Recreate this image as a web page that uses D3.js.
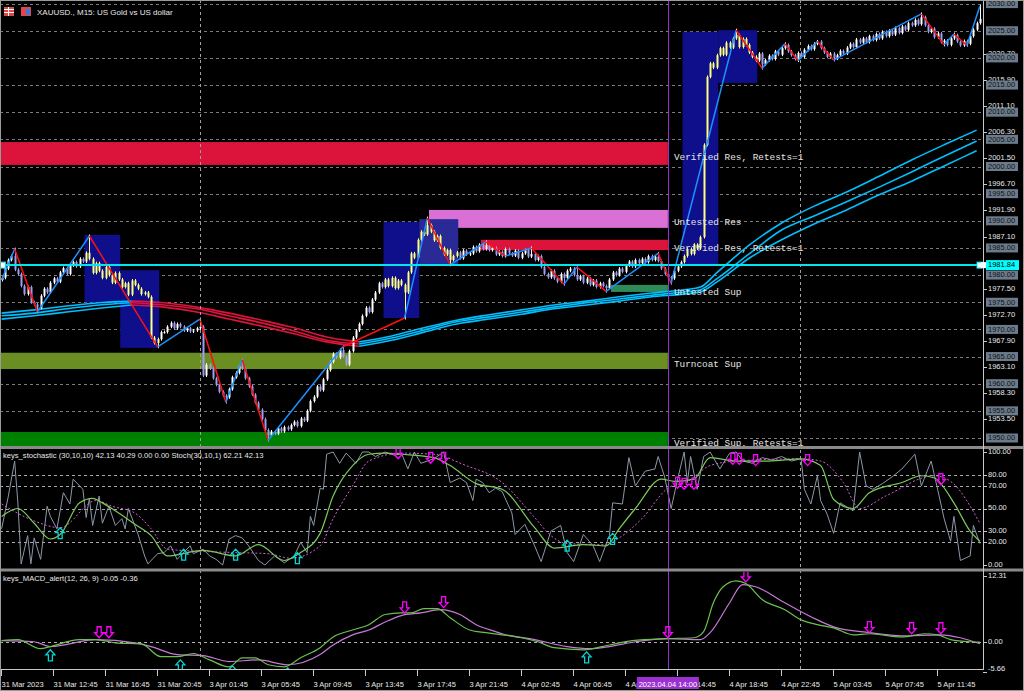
<!DOCTYPE html>
<html><head><meta charset="utf-8">
<script src="https://cdn.jsdelivr.net/npm/d3@7"></script>
<style>html,body{margin:0;padding:0;background:#000;overflow:hidden}</style>
</head><body><svg id="c" width="1024" height="691"></svg>
<script>
// ---------------- DATA ----------------
const closes = [
1979.5,1981.2,1982.8,1983.5,1981.0,1980.2,1978.0,1976.5,1977.8,1975.0,
1974.6,1974.0,1976.2,1977.5,1976.8,1978.6,1979.4,1978.8,1980.5,1981.3,
1980.2,1981.8,1982.4,1981.6,1983.0,1982.5,1984.1,1983.0,1980.4,1982.2,
1980.8,1979.5,1981.5,1980.0,1978.6,1980.4,1979.2,1977.8,1978.5,1976.4,
1979.0,1978.2,1977.5,1976.5,1976.8,1976.0,1968.5,1967.5,1968.2,1969.5,
1969.5,1970.5,1971.2,1970.2,1971.0,1970.5,1969.8,1970.2,1969.6,1969.8,
1970.2,1970.5,1961.5,1963.5,1962.8,1961.0,1959.8,1958.5,1957.8,1957.5,
1959.0,1961.2,1962.0,1963.2,1962.8,1961.0,1959.5,1958.0,1956.5,1955.2,
1953.5,1951.5,1950.5,1951.2,1950.8,1951.8,1951.2,1952.0,1951.6,1952.4,
1953.0,1952.2,1953.6,1953.2,1955.0,1956.8,1957.6,1959.5,1958.8,1960.8,
1962.5,1964.0,1965.5,1964.8,1966.2,1965.0,1963.5,1966.0,1968.5,1969.8,
1971.0,1972.5,1974.0,1973.2,1975.5,1976.8,1978.5,1977.8,1979.2,1978.0,
1979.5,1977.6,1979.0,1978.2,1976.8,1980.5,1984.0,1983.2,1986.5,1988.0,
1987.5,1989.2,1988.0,1986.4,1987.2,1985.0,1983.8,1984.6,1982.8,1983.5,
1984.2,1983.1,1984.5,1983.8,1984.0,1985.2,1984.4,1985.6,1984.8,1985.5,
1984.6,1985.0,1983.8,1984.3,1983.5,1984.8,1984.0,1983.6,1984.5,1983.2,
1984.0,1984.6,1983.4,1983.9,1982.8,1983.5,1981.5,1980.2,1979.6,1980.8,
1979.4,1978.8,1980.2,1979.5,1980.8,1981.2,1980.0,1979.2,1979.8,1978.6,
1979.4,1978.2,1979.0,1977.8,1978.5,1978.0,1977.6,1979.2,1980.5,1980.0,
1981.2,1980.6,1981.8,1982.5,1981.6,1982.8,1982.2,1983.0,1982.4,1983.5,
1982.8,1983.4,1982.6,1981.2,1980.2,1979.6,1979.4,1980.8,1981.6,1982.4,
1983.5,1984.8,1983.9,1985.6,1984.9,1987.0,2004.0,2016.5,2019.0,2018.2,
2020.5,2021.8,2020.6,2022.8,2021.9,2023.6,2024.2,2022.0,2023.5,2022.4,
2021.0,2020.2,2019.5,2020.8,2018.8,2019.6,2020.4,2019.8,2021.2,2020.6,
2021.8,2022.4,2021.2,2020.5,2019.8,2020.9,2020.2,2021.5,2022.2,2021.6,
2022.6,2023.0,2021.8,2021.0,2020.2,2020.8,2019.9,2020.5,2021.3,2020.8,
2021.9,2022.6,2022.0,2023.4,2022.8,2023.6,2022.9,2024.0,2023.3,2024.4,
2023.6,2024.8,2024.0,2025.0,2024.3,2025.5,2024.6,2025.8,2025.2,2026.4,
2026.0,2027.0,2026.2,2027.5,2026.0,2024.8,2025.4,2023.8,2024.5,2022.9,
2023.2,2022.4,2023.6,2024.2,2023.0,2022.3,2023.1,2022.6,2024.0,2025.2,2026.4,2027.2];

// zigzag vertices
const zzBar   = [0,4,11,27,48,61,69,74,82,105,124,131,138,149,155,163,173,177,186,202,206,226,234,241,245,251,256,283,290,293,297,301];
const zzPrice = [1979.1,1984.8,1973.2,1987.2,1966.8,1971.9,1956.6,1964.4,1949.6,1966.8,1972.1,1990.5,1981.9,1986.1,1983.5,1985.0,1978.3,1981.5,1977.0,1984.0,1978.5,2025.1,2018.1,2022.6,2019.5,2023.0,2019.6,2028.1,2022.4,2024.4,2022.3,2029.5];
const zzType  = ["L","H","L","H","L","H","L","H","L","H","L","H","L","H","L","H","L","H","L","H","L","H","L","H","L","H","L","H","L","H","L","H"];

// moving averages (3 lines)
const maBars = [0,10,20,30,40,50,60,70,80,90,100,110,120,130,140,150,160,170,180,190,200,210,215,220,230,240,250,260,270,280,290,300];
const maTop  = [1973.0,1973.6,1974.3,1974.9,1975.2,1974.9,1974.1,1973.0,1971.7,1970.3,1968.6,1967.7,1968.8,1970.3,1971.7,1972.7,1973.6,1974.5,1975.2,1976.0,1976.7,1977.3,1977.8,1980.4,1985.5,1989.6,1992.7,1995.3,1998.2,2001.2,2004.0,2006.7];
const maMid  = [1972.5,1973.0,1973.8,1974.5,1974.9,1974.5,1973.8,1972.5,1971.2,1969.7,1968.0,1967.3,1968.4,1969.9,1971.4,1972.3,1973.2,1974.1,1974.9,1975.6,1976.3,1976.9,1977.3,1979.3,1983.9,1988.3,1990.9,1993.5,1996.2,1999.0,2001.9,2004.7];
const maLow  = [1971.9,1972.5,1973.2,1973.9,1974.5,1974.1,1973.2,1971.9,1970.6,1969.2,1967.7,1966.9,1968.0,1969.5,1971.0,1971.9,1972.8,1973.8,1974.5,1975.2,1976.0,1976.5,1976.9,1978.7,1983.1,1986.5,1989.4,1992.0,1994.8,1997.3,2000.1,2002.9];

// blue boxes
const boxStart = [26,37,118,129,210,221];
const boxEnd   = [36,48,128,140,220,232];
const boxHi    = [1987.4,1980.9,1989.8,1990.3,2024.8,2025.1];
const boxLo    = [1975.0,1966.6,1972.1,1981.9,1981.9,2015.4];

// supply / demand zones
const zoneStart = [0,132,148,188,0,0];
const zoneEnd   = [205,205,205,205,205,205];
const zoneHi    = [2004.5,1992.0,1986.5,1978.2,1965.7,1951.1];
const zoneLo    = [2000.3,1988.7,1984.6,1976.9,1962.7,1948.3];
const zoneKind  = ["vres","ures","vres","usup","tsup","vsup"];
const zoneText  = ["Verified Res, Retests=1","Untested Res","Verified Res, Retests=1","Untested Sup","Turncoat Sup","Verified Sup, Retests=1"];

const levelPrices = [2030,2025,2020,2015,2010,2005,2000,1995,1990,1985,1980,1975,1970,1965,1960,1955,1950];
const gridPrices  = [2020.7,2015.9,2011.1,2006.3,2001.5,1996.7,1991.9,1987.1,1977.5,1972.7,1967.9,1963.1,1958.3,1953.5];
const currentLine = 1981.84;
const cursorBar = 205;
const cursorLabel = "2023.04.04 14:00";
const vDashBars = [61.5, 246];

const timeTickBars = [0,16,32,48,64,80,96,112,128,144,160,176,192,208,224,240,256,272,288];
const timeLabels = ["31 Mar 2023","31 Mar 12:45","31 Mar 16:45","31 Mar 20:45","3 Apr 01:45","3 Apr 05:45","3 Apr 09:45","3 Apr 13:45","3 Apr 17:45","3 Apr 21:45","4 Apr 02:45","4 Apr 06:45","4 Apr 10:45","4 Apr 14:45","4 Apr 18:45","4 Apr 22:45","5 Apr 03:45","5 Apr 07:45","5 Apr 11:45"];

// stochastic
const stochRaw = [[0,32],[2,60],[4,92],[5,55],[6,1],[8,26],[9,1],[10,24],[12,5],[14,52],[15,43],[17,32],[19,64],[21,54],[22,76],[25,67],[26,42],[27,59],[28,35],[30,61],[31,37],[33,52],[35,35],[37,41],[38,32],[39,50],[42,27],[44,8],[45,1],[48,10],[50,11],[52,17],[54,5],[58,17],[59,10],[62,14],[64,8],[66,5],[68,0],[70,23],[72,26],[74,24],[76,17],[79,4],[81,0],[84,8],[87,2],[90,8],[92,20],[94,11],[95,43],[96,35],[98,68],[99,67],[100,98],[102,100],[104,90],[106,99],[109,90],[111,100],[113,100],[115,96],[118,100],[121,97],[123,99],[125,85],[127,100],[129,90],[133,94],[136,100],[138,73],[141,77],[143,73],[145,57],[146,76],[148,73],[150,64],[152,68],[154,65],[157,46],[158,27],[161,36],[164,17],[166,3],[169,30],[172,35],[174,11],[176,3],[179,27],[182,17],[184,3],[187,26],[188,55],[191,54],[193,95],[195,70],[198,83],[201,85],[202,96],[204,78],[206,50],[208,76],[210,100],[211,73],[212,96],[214,67],[216,96],[218,100],[221,85],[224,99],[226,100],[228,92],[231,90],[234,95],[237,93],[240,96],[243,92],[246,94],[247,67],[249,54],[251,79],[252,57],[254,45],[256,28],[258,55],[262,48],[264,100],[266,70],[268,67],[271,72],[274,78],[277,85],[281,98],[283,70],[286,92],[288,67],[290,41],[292,21],[293,43],[295,4],[298,8],[299,35],[301,19]];
const stochMain = [[0,43],[5,50],[10,37],[15,23],[18,27],[24,55],[28,59],[31,55],[36,46],[41,36],[46,26],[51,8],[62,13],[72,8],[79,18],[87,4],[92,11],[98,28],[102,61],[108,88],[113,98],[118,99],[123,98],[133,95],[138,88],[146,72],[154,67],[164,33],[170,15],[179,18],[186,17],[190,32],[195,50],[203,76],[207,74],[213,76],[218,95],[226,92],[236,92],[246,94],[252,88],[256,58],[262,50],[267,64],[277,73],[283,79],[287,77],[293,55],[298,30],[301,21]];
const stochSig = [[0,54],[10,39],[18,33],[29,57],[34,52],[41,46],[46,32],[51,14],[62,12],[72,11],[82,10],[89,6],[98,17],[102,41],[108,70],[113,92],[123,99],[133,98],[142,89],[154,73],[164,42],[169,26],[174,19],[185,18],[190,24],[197,41],[205,68],[211,74],[218,88],[226,92],[246,94],[252,92],[259,73],[264,50],[272,61],[287,79],[292,74],[301,37]];
const stochUpBars = [18,56,72,91,174,188];
const stochUpVals = [33,14,14,11,22,28];
const stochDnBars = [122,132,136,208,210,213,225,227,232,248,289];
const stochDnVals = [94,90,90,68,67,67,89,89,88,88,71];
const stochLevels = [80,70,50,30,20];
const stochAxis = [100,80,70,50,30,20,0];

// MACD
const macdBars = [0,5,12,15,24,29,35,43,49,54,59,64,70,74,78,82,87,92,98,102,108,113,118,123,126,130,134,138,144,149,154,160,165,170,179,187,194,205,213,216,219,222,226,229,234,241,246,251,256,262,267,277,284,288,292,298,301];
const macdVals = [0.2,0.4,-1.3,-0.9,0.4,0.4,-0.2,-0.4,-2.8,-2.8,-2.2,-3.4,-4.7,-3.0,-3.0,-4.3,-4.7,-3.0,-1.1,0.9,2.2,3.2,5.1,5.4,5.4,6.2,6.2,4.5,2.2,1.7,1.3,0.75,0,-1.1,-1.5,-0.6,0.2,0.6,0.75,1.9,7.3,10.3,11.4,10.9,7.9,6.0,4.1,3.2,2.6,1.3,1.5,0.9,1.5,1.3,0.4,0,-0.05];
const sigBars = [0,10,15,29,41,46,54,62,70,79,88,98,102,108,113,118,123,129,135,141,146,152,154,164,174,181,187,195,205,215,218,224,228,232,241,251,256,267,277,289,295,301];
const sigVals = [0.2,0,-0.9,0.4,-0.2,-0.9,-2.4,-2.6,-3.7,-3.4,-4.3,-2.4,-0.6,1.3,2.2,3.7,4.9,5.4,6.0,5.1,3.2,1.9,1.5,0.4,-0.9,-1.3,-0.9,0,0.6,0.4,1.7,7.3,10.7,10.3,7.3,4.1,2.8,1.7,1.1,1.3,0.75,-0.36];
const macdUpBars = [15,55,71,88,180];
const macdUpVals = [-1.5,-3.4,-4.5,-4.9,-1.9];
const macdDnBars = [30,33,124,136,205,229,267,280,289];
const macdDnVals = [0.75,0.75,5.4,6.4,0.75,11.2,1.7,1.5,1.5];
const macdAxis = [12.31,0,-5.66];

const titleText = "XAUUSD., M15:  US Gold vs US dollar";
const stochTitle = "keys_stochastic (30,10,10) 42.13 40.29 0.00 0.00 Stoch(30,10,1) 62.21 42.13";
const macdTitle = "keys_MACD_alert(12, 26, 9) -0.05 -0.36";

// ---------------- DRAW ----------------
const svg = d3.select("#c");
const FONT = "'Liberation Sans', Arial, sans-serif";
const AX = 983; // right axis line
const x = d3.scaleLinear().domain([0, 302]).range([0, 981.5]);
const xc = i => x(i + 0.5);
const yP = d3.scaleLinear().domain([1950, 2030]).range([438, 3.6]);
const yS = d3.scaleLinear().domain([0, 100]).range([565, 452]);
const yM = d3.scaleLinear().domain([-5.66, 12.31]).range([672, 576]);

svg.append("rect").attr("width",1024).attr("height",691).attr("fill","#000");

const defs = svg.append("defs");
function clip(id, x0, y0, w, h) {
  defs.append("clipPath").attr("id", id).append("rect").attr("x",x0).attr("y",y0).attr("width",w).attr("height",h);
}
clip("cMain", 0, 0, AX, 446); clip("cSto", 0, 449, AX, 119); clip("cMacd", 0, 572, AX, 97);

const gMain = svg.append("g").attr("clip-path","url(#cMain)");
const gSto = svg.append("g").attr("clip-path","url(#cSto)");
const gMacd = svg.append("g").attr("clip-path","url(#cMacd)");

// level dashed lines
gMain.selectAll(".lvl").data(levelPrices).join("line")
  .attr("x1",0).attr("x2",AX).attr("y1",d=>Math.round(yP(d))+0.5).attr("y2",d=>Math.round(yP(d))+0.5)
  .attr("stroke","#7a7a7a").attr("stroke-width",1).attr("stroke-dasharray","3,3");

// zones
const zoneColor = {vres:"#dc143c", ures:"#da70d6", usup:"#2e8b57", tsup:"#6b8e23", vsup:"#008000"};
gMain.selectAll(".zone").data(zoneStart).join("rect")
  .attr("x",(d,i)=>x(zoneStart[i])).attr("width",(d,i)=>xc(zoneEnd[i])-x(zoneStart[i]))
  .attr("y",(d,i)=>yP(zoneHi[i])).attr("height",(d,i)=>yP(zoneLo[i])-yP(zoneHi[i]))
  .attr("fill",(d,i)=>zoneColor[zoneKind[i]]);

// boxes
gMain.selectAll(".box").data(boxStart).join("rect")
  .attr("x",(d,i)=>x(boxStart[i])).attr("width",(d,i)=>x(boxEnd[i]+1)-x(boxStart[i]))
  .attr("y",(d,i)=>yP(boxHi[i])).attr("height",(d,i)=>yP(boxLo[i])-yP(boxHi[i]))
  .attr("fill",(d,i)=> i===3 ? "#2a2a96" : "#0f0f8c");

// vertical dashed lines (all panels)
vDashBars.forEach(b=>{
  svg.append("line").attr("x1",Math.round(x(b))+0.5).attr("x2",Math.round(x(b))+0.5).attr("y1",0).attr("y2",669)
    .attr("stroke","#a0a0a0").attr("stroke-dasharray","3,3");
});

// moving averages, coloured by slope
function drawMA(vals) {
  const pts = maBars.map((b,i)=>[b, vals[i]]);
  let run = [pts[0]], up = pts[1][1] >= pts[0][1];
  const runs = [];
  for (let i=1;i<pts.length;i++){
    const u = pts[i][1] >= pts[i-1][1];
    if (u !== up) { runs.push({up, pts: run}); run = [pts[i-1]]; up = u; }
    run.push(pts[i]);
  }
  runs.push({up, pts: run});
  const line = d3.line().x(d=>xc(d[0])).y(d=>yP(d[1])).curve(d3.curveMonotoneX);
  runs.forEach(r=>{
    gMain.append("path").attr("d", line(r.pts)).attr("fill","none")
      .attr("stroke", r.up ? "#00bfff" : "#dc143c").attr("stroke-width",1.6);
  });
}
[maTop, maMid, maLow].forEach(drawMA);

// candles
function inBox(i){ for (let k=0;k<boxStart.length;k++) if (i>=boxStart[k] && i<=boxEnd[k]) return true; return false; }
const candles = closes.map((c,i)=>{
  const o = i===0 ? c-0.4 : closes[i-1];
  let hi = Math.max(o,c), lo = Math.min(o,c);
  const z = zzBar.indexOf(i);
  if (z>=0) { if (zzType[z]==="H") hi = Math.max(hi, zzPrice[z]); else lo = Math.min(lo, zzPrice[z]); }
  return {i,o,c,hi,lo};
});
const cg = gMain.append("g");
candles.forEach(d=>{
  const col = inBox(d.i) ? "#ffff80" : (d.c >= d.o ? "#ffffff" : "#9d9df5");
  const cx = Math.round(xc(d.i)) + 0.5;
  cg.append("line").attr("x1",cx).attr("x2",cx).attr("y1",yP(d.hi)-1.5).attr("y2",yP(d.lo)+1.5)
    .attr("stroke",col).attr("stroke-width",1);
  const top = yP(Math.max(d.o,d.c)), bot = yP(Math.min(d.o,d.c));
  cg.append("rect").attr("x",cx-1).attr("width",2).attr("y",top).attr("height",Math.max(1,bot-top)).attr("fill",col);
});

// zigzag
for (let k=1;k<zzBar.length;k++){
  gMain.append("line")
    .attr("x1",xc(zzBar[k-1])).attr("y1",yP(zzPrice[k-1]))
    .attr("x2",xc(zzBar[k])).attr("y2",yP(zzPrice[k]))
    .attr("stroke", zzType[k]==="H" ? "#1e90ff" : "#ff1010").attr("stroke-width",1.5);
}

// current-price horizontal line
const yc = yP(currentLine);
gMain.append("line").attr("x1",0).attr("x2",AX).attr("y1",yc).attr("y2",yc).attr("stroke","#00e5ee").attr("stroke-width",2);
gMain.append("rect").attr("x",0.5).attr("y",yc-3).attr("width",5).attr("height",6).attr("fill","#fff").attr("stroke","#00e5ee");
gMain.append("rect").attr("x",AX-6).attr("y",yc-3).attr("width",5).attr("height",6).attr("fill","#fff").attr("stroke","#00e5ee");

// zone labels
gMain.selectAll(".zt").data(zoneText).join("text")
  .attr("x", xc(cursorBar)+6).attr("y",(d,i)=> (yP(zoneHi[i])+yP(zoneLo[i]))/2 + 4)
  .attr("dominant-baseline","middle")
  .attr("font-family","'Liberation Mono', 'DejaVu Sans Mono', monospace").attr("font-size",9.4)
  .attr("fill","#e6e6e6").text(d=>d);

// title + icons
svg.append("rect").attr("x",4).attr("y",7).attr("width",10).attr("height",9).attr("fill","#e04848");
[9.5,12.5].forEach(yy=>svg.append("line").attr("x1",4).attr("x2",14).attr("y1",yy).attr("y2",yy).attr("stroke","#fff"));
svg.append("line").attr("x1",8.5).attr("x2",8.5).attr("y1",7).attr("y2",16).attr("stroke","#fff");
svg.append("rect").attr("x",21).attr("y",7).attr("width",10).attr("height",9).attr("fill","#e04848");
svg.append("rect").attr("x",26).attr("y",9).attr("width",4).attr("height",6).attr("fill","#3a7ad8");
svg.append("text").attr("x",37).attr("y",15).attr("font-family",FONT).attr("font-size",8).attr("fill","#e8e8e8").text(titleText);

// ---- stochastic panel ----
gSto.selectAll(".sl").data(stochLevels).join("line")
  .attr("x1",0).attr("x2",AX).attr("y1",d=>Math.round(yS(d))+0.5).attr("y2",d=>Math.round(yS(d))+0.5)
  .attr("stroke","#a8a8a8").attr("stroke-dasharray","3,3");
const lineS = d3.line().x(d=>xc(d[0])).y(d=>yS(d[1]));
gSto.append("path").attr("d",lineS(stochRaw)).attr("fill","none").attr("stroke","#8c98a8").attr("stroke-width",1);
gSto.append("path").attr("d",lineS.curve(d3.curveMonotoneX)(stochSig)).attr("fill","none").attr("stroke","#d060d0").attr("stroke-width",1).attr("stroke-dasharray","2,2");
gSto.append("path").attr("d",lineS.curve(d3.curveMonotoneX)(stochMain)).attr("fill","none").attr("stroke","#7cc85c").attr("stroke-width",1.2);

function upArrow(g, cx, ty, col){
  g.append("path").attr("d",`M${cx},${ty} L${cx+4.5},${ty+5} L${cx+2},${ty+5} L${cx+2},${ty+11} L${cx-2},${ty+11} L${cx-2},${ty+5} L${cx-4.5},${ty+5} Z`)
   .attr("fill","none").attr("stroke",col).attr("stroke-width",1.3);
}
function dnArrow(g, cx, ty, col){
  g.append("path").attr("d",`M${cx},${ty} L${cx+4.5},${ty-5} L${cx+2},${ty-5} L${cx+2},${ty-11} L${cx-2},${ty-11} L${cx-2},${ty-5} L${cx-4.5},${ty-5} Z`)
   .attr("fill","none").attr("stroke",col).attr("stroke-width",1.3);
}
stochUpBars.forEach((b,i)=>upArrow(gSto, xc(b), yS(stochUpVals[i]), "#00d8d8"));
stochDnBars.forEach((b,i)=>dnArrow(gSto, xc(b), yS(stochDnVals[i]), "#ff00ff"));
svg.append("text").attr("x",3).attr("y",458).attr("font-family",FONT).attr("font-size",7.6).attr("fill","#e8e8e8").text(stochTitle);

// ---- MACD panel ----
gMacd.append("line").attr("x1",0).attr("x2",AX).attr("y1",Math.round(yM(0))+0.5).attr("y2",Math.round(yM(0))+0.5)
  .attr("stroke","#b0b0b0").attr("stroke-dasharray","3,3");
const lineM = d3.line().x(d=>xc(d[0])).y(d=>yM(d[1])).curve(d3.curveMonotoneX);
gMacd.append("path").attr("d",lineM(sigBars.map((b,i)=>[b,sigVals[i]]))).attr("fill","none").attr("stroke","#c878d8").attr("stroke-width",1.2);
gMacd.append("path").attr("d",lineM(macdBars.map((b,i)=>[b,macdVals[i]]))).attr("fill","none").attr("stroke","#6cc050").attr("stroke-width",1.2);
macdUpBars.forEach((b,i)=>upArrow(gMacd, xc(b), yM(macdUpVals[i]), "#00d8d8"));
macdDnBars.forEach((b,i)=>dnArrow(gMacd, xc(b), yM(macdDnVals[i]), "#ff00ff"));
svg.append("text").attr("x",3).attr("y",581).attr("font-family",FONT).attr("font-size",7.6).attr("fill","#e8e8e8").text(macdTitle);

// cursor line
svg.append("line").attr("x1",Math.round(xc(cursorBar))+0.5).attr("x2",Math.round(xc(cursorBar))+0.5).attr("y1",0).attr("y2",669)
  .attr("stroke","#9932cc").attr("stroke-width",1);

// separators & axes
svg.append("rect").attr("x",0).attr("y",446).attr("width",1024).attr("height",3).attr("fill","#8a8a8a");
svg.append("rect").attr("x",0).attr("y",568.5).attr("width",1024).attr("height",3).attr("fill","#8a8a8a");
svg.append("line").attr("x1",AX+0.5).attr("x2",AX+0.5).attr("y1",0).attr("y2",669.5).attr("stroke","#c8c8c8");
svg.append("line").attr("x1",0).attr("x2",AX+1).attr("y1",669.5).attr("y2",669.5).attr("stroke","#c8c8c8");

// price axis: grid labels
const axG = svg.append("g").attr("font-family",FONT).attr("font-size",7.5);
gridPrices.forEach(p=>{
  const yy = yP(p);
  axG.append("line").attr("x1",AX).attr("x2",AX+4).attr("y1",Math.round(yy)+0.5).attr("y2",Math.round(yy)+0.5).attr("stroke","#c8c8c8");
  axG.append("text").attr("x",988).attr("y",yy).attr("dominant-baseline","middle").attr("fill","#e8e8e8").text(p.toFixed(2));
});
levelPrices.forEach(p=>{
  const yy = yP(p);
  axG.append("rect").attr("x",986).attr("y",yy-4.5).attr("width",32).attr("height",9).attr("fill","#6b7b8c");
  axG.append("text").attr("x",988).attr("y",yy+0.3).attr("dominant-baseline","middle").attr("fill","#101010").text(p.toFixed(2));
});
axG.append("rect").attr("x",986).attr("y",yc-5).attr("width",33).attr("height",10).attr("fill","#00ffff");
axG.append("rect").attr("x",AX-2).attr("y",yc-3).attr("width",5).attr("height",6).attr("fill","#fff");
axG.append("text").attr("x",988).attr("y",yc+0.3).attr("dominant-baseline","middle").attr("fill","#000").text(currentLine.toFixed(2));

// stochastic axis
stochAxis.forEach(v=>{
  const yy = yS(v);
  axG.append("line").attr("x1",AX).attr("x2",AX+4).attr("y1",Math.round(yy)+0.5).attr("y2",Math.round(yy)+0.5).attr("stroke","#c8c8c8");
  axG.append("text").attr("x",988).attr("y",yy).attr("dominant-baseline","middle").attr("fill","#e8e8e8").text(v.toFixed(2));
});
// MACD axis
macdAxis.forEach(v=>{
  const yy = yM(v);
  axG.append("line").attr("x1",AX).attr("x2",AX+4).attr("y1",Math.round(yy)+0.5).attr("y2",Math.round(yy)+0.5).attr("stroke","#c8c8c8");
  axG.append("text").attr("x",988).attr("y",Math.min(yy,669)).attr("dominant-baseline","middle").attr("fill","#e8e8e8").text(v.toFixed(2));
});

// time axis
timeTickBars.forEach((b,i)=>{
  const xx = Math.round(x(b))+1.5;
  axG.append("line").attr("x1",xx).attr("x2",xx).attr("y1",670).attr("y2",676).attr("stroke","#c8c8c8");
  axG.append("text").attr("x",xx).attr("y",687).attr("fill","#e8e8e8").text(timeLabels[i]);
});
// cursor time label
const cx0 = xc(cursorBar);
axG.append("rect").attr("x",cx0-31).attr("y",677).attr("width",62).attr("height",12).attr("fill","#9b30d0");
axG.append("text").attr("x",cx0).attr("y",686.5).attr("text-anchor","middle").attr("fill","#fff").text(cursorLabel);

// outer frame
svg.append("rect").attr("x",0.5).attr("y",0.5).attr("width",1023).attr("height",690).attr("fill","none").attr("stroke","#9a9a9a");
</script></body></html>
